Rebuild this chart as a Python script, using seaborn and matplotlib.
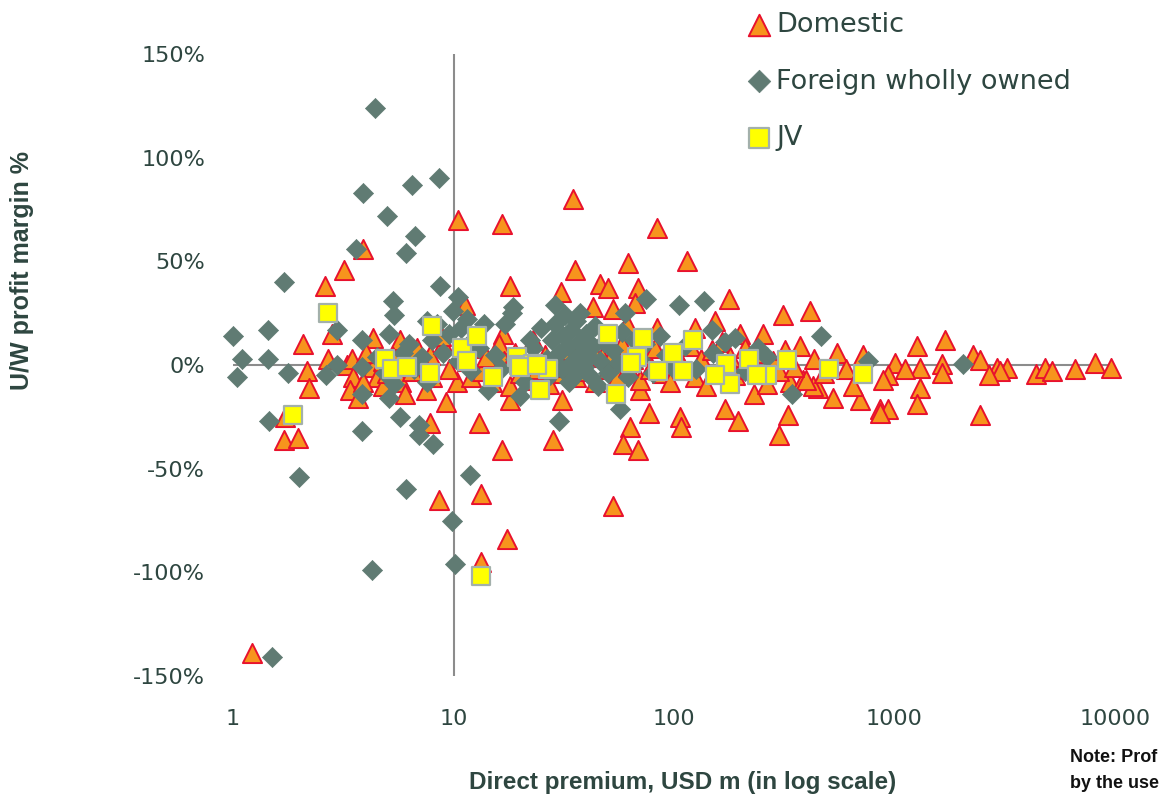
import matplotlib

matplotlib.use("Agg")
import matplotlib.pyplot as plt
import numpy as np
import pandas as pd
import seaborn as sns
from matplotlib.ticker import FixedLocator, FuncFormatter

# Direct premium (USD m) and U/W profit margin (%) per insurer
domestic_premium = [
    10.5, 3.9, 3.2, 2.6, 11.3, 2.07, 2.16, 2.2, 2.7, 2.8, 1.7, 1.97, 1.72, 3.3, 3.45,
    3.5, 3.4, 3.7, 4.3, 4.3, 4.5, 5.7, 5.8, 7.8, 7.8, 8.6, 10.4, 13.0, 1.22, 13.3,
    17.5, 13.3, 16.6, 16.6, 34.9, 83.9, 35.5, 61.6, 114, 18, 46, 50, 68.7, 30.7, 43,
    52.7, 66.5, 61, 84, 16.8, 124, 28.2, 31, 70, 77, 63, 58.7, 69, 106, 108,
    52.8, 18, 31.4, 177, 312, 414, 253, 1260, 1000, 546, 720, 372, 1300, 1300, 1260,
    860, 930, 700, 527, 450, 330, 300, 195, 170, 335, 385, 230, 200, 153, 425,
    1690, 2270, 2450, 2930, 3230, 3000, 2670, 2450, 4400, 4800, 5200, 6600, 8150, 9600, 1650,
    1640, 1120, 930, 890, 860, 395,
    6.5, 7.2, 8.0, 9.0, 9.5, 6.8, 5.3, 4.8, 6.0, 7.5, 9.2, 8.8, 3.9, 4.0, 4.8, 5.0,
    11.5, 12, 12.5, 13.5, 14, 15, 16, 17, 18, 19, 20, 21, 22, 23, 24,
    26, 27, 29, 32, 34, 36, 38, 40, 42, 44, 47, 50, 53, 56, 58,
    62, 65, 70, 74, 78, 82, 88, 92, 96, 102, 110, 118, 125, 132, 140,
    148, 158, 165, 180, 190, 210, 220, 240, 265, 280, 300, 320, 350, 430, 480,
    600, 650,
]
domestic_margin = [
    70, 56, 46, 38, 29, 10, -3, -11, 3, 15, -36, -35, -25, 0, 3,
    -6, -12, -16, 13, -1, -6, 12, -8, -28, 5, -65, -8, -28, -139, -62,
    -84, -95, -41, 68, 80, 66, 46, 49, 50, 38, 39, 37, 37, 35, 28,
    27, 30, 20, 18, 15, 18, -36, -17, -12, -23, -30, -38, -41, -25, -30,
    -68, -17, -4, 32, 24, 26, 15, 9, 1, 6, 5, 9, -1.5, -11, -19,
    -21, -21, -17, -16, -11, -24, -34, -27, -21, -8, -7, -14, 15, 21, -10,
    12, 5, 2.5, -1.5, -1.5, -3, -5, -24, -4.5, -1.5, -3, -2, 1, -1.5, 0.5,
    -4, -2, -5, -7, -23, -7,
    -3, 2, -6, 10, -2, 8, 4, -10, -14, -12, -18, 14, -8, 6, 2, -4,
    2, -6, 8, -3, 4, -8, 10, 2, -10, 6, -4, 1, -7, 12, -2,
    5, -9, 3, -1, 7, -6, 2, -3, 9, -8, 4, -2, 6, -5, 10,
    -1, 3, -7, 5, -2, 8, -4, 2, -8, 6, -1, 9, -6, 3, -10,
    7, -3, 11, 4, -5, 8, -2, 6, -9, 2, -3, 7, -1, 3, -4,
    -2, -10,
]

foreign_premium = [
    4.4, 3.9, 6.5, 8.6, 5.0, 6.7, 6.1, 3.6, 1.7, 8.7, 10.5, 5.3, 5.4,
    1.0, 1.44, 1.1, 1.44, 1.04, 1.78, 1.45, 3.85, 2.0, 6.1, 2.96, 2.64, 2.96, 3.85, 3.85,
    3.85, 5.1, 5.1, 5.7, 7.0, 7.0, 8.1, 11.9, 9.9, 7.6, 6.3, 5.4, 7.6,
    9.85, 4.27, 10.2, 1.5,
    18.6, 18.4, 17.1, 75, 105, 28.9, 59.8, 22.2, 37.5,
    30, 56.9, 45, 20, 14.3,
    137, 464, 189, 149, 263, 760, 342, 2040,
    10.8, 11.5, 12.2, 11, 13, 12, 10.5, 9.5, 9, 8.4, 8, 7.2, 6.6, 5.9, 4.9, 4.5,
    13.8, 15.5, 16.5, 19, 21, 23, 25, 26.5, 27.5, 28, 29, 30, 31, 31.5, 32,
    33, 33.5, 34, 35, 36, 36.5, 37, 38, 39, 40, 41, 42, 43, 44, 46,
    48, 50, 53, 56, 58, 62, 66, 70, 74, 80, 86, 92, 98, 112, 126,
    150, 170, 210, 240,
]
foreign_margin = [
    124, 83, 87, 90, 72, 62, 54, 56, 40, 38, 33, 31, 24,
    14, 17, 3, 3, -6, -4, -27, -32, -54, -60, 17, -5, 0, 12, -1,
    -14, 15, -16, -25, -29, -34, -38, -53, 26, 21, 10, -9, -8,
    -75, -99, -96, -141,
    28, 25, 20, 32, 29, 29, 25, 12, 25,
    -27, -21, -10, -15, -12,
    31, 14, 13, 17, 4, 2, -14, 0.5,
    18, 22, 12, 6, 8, -3, 2, 15, 6, 20, 12, 4, -2, 6, -4, 4,
    20, 5, -2, 3, -8, 8, 18, 3, -5, 12, 20, 6, -2, 14, 24,
    9, -8, 17, 2, 21, -4, 11, 6, -1, 15, 4, -6, 9, 19, 2,
    11, -4, 7, 1, 16, -6, 12, 3, 10, -4, 14, 5, -1, 9, -2,
    6, 11, -3, 8,
]

jv_premium = [
    2.7, 8.0, 4.9, 5.25, 6.15, 7.8, 1.87, 10.9, 11.5, 12.8, 13.3,
    50, 72, 122, 19.4, 26.8, 19.8, 67.8, 99, 110, 84.8, 15.1, 22.9,
    54.5, 24.7, 20, 24, 64,
    172, 180, 218, 263, 237, 325, 505, 718, 153,
]
jv_margin = [
    25, 19, 3, -2, -1, -4, -24, 8, 2, 14, -102,
    15, 13, 12, 4, -2, 0, 4, 6, -3, -3, -6, 0.5,
    -14, -12, -1, 0, 1,
    0.5, -9, 3, -5, -5, 2.5, -2, -4.5, -5,
]

groups = ["Domestic", "Foreign wholly owned", "JV"]
x_ticks = [1, 10, 100, 1000, 10000]
y_ticks = [-150, -100, -50, 0, 50, 100, 150]

df = pd.concat(
    [
        pd.DataFrame({"premium": domestic_premium, "margin": domestic_margin, "group": groups[0]}),
        pd.DataFrame({"premium": foreign_premium, "margin": foreign_margin, "group": groups[1]}),
        pd.DataFrame({"premium": jv_premium, "margin": jv_margin, "group": groups[2]}),
    ],
    ignore_index=True,
)

styles = {
    "Domestic": dict(marker="^", s=190, color="#F7941D", edgecolor="#E8112D", linewidth=1.4),
    "Foreign wholly owned": dict(marker="D", s=105, color="#607B73", edgecolor="#607B73", linewidth=0.5),
    "JV": dict(marker="s", s=165, color="#FFFF00", edgecolor="#A3B0AB", linewidth=1.6),
}

TEXT = "#2E4640"
AXIS = "#8C8C8C"

sns.set_theme(style="white")
plt.rcParams["font.family"] = ["DejaVu Sans"]

fig = plt.figure(figsize=(11.61, 7.98), dpi=100, facecolor="white")
ax = fig.add_axes([233 / 1161, 1 - 676 / 798, (1115 - 233) / 1161, (676 - 54) / 798])

for g in groups:
    sub = df[df["group"] == g]
    sns.scatterplot(data=sub, x="premium", y="margin", ax=ax, label=g, clip_on=False, **styles[g])

if ax.get_legend() is not None:
    ax.get_legend().remove()

ax.set_xscale("log")
ax.set_xlim(1, 10000)
ax.set_ylim(-150, 150)
ax.axhline(0, color=AXIS, lw=1.5, zorder=0)
ax.axvline(10, color=AXIS, lw=1.5, zorder=0)
for sp in ax.spines.values():
    sp.set_visible(False)

ax.xaxis.set_major_locator(FixedLocator(x_ticks))
ax.xaxis.set_minor_locator(FixedLocator([]))
ax.xaxis.set_major_formatter(FuncFormatter(lambda v, p: f"{v:.0f}"))
ax.yaxis.set_major_locator(FixedLocator(y_ticks))
ax.yaxis.set_major_formatter(FuncFormatter(lambda v, p: f"{v:.0f}%"))
ax.tick_params(axis="both", length=0, labelsize=16, labelcolor=TEXT)
ax.tick_params(axis="x", pad=24)
ax.tick_params(axis="y", pad=20)
ax.set_xlabel("")
ax.set_ylabel("")
ax.grid(False)

fig.text(22 / 1161, 1 - 270 / 798, "U/W profit margin %", rotation=90, ha="center", va="center",
         fontsize=18, fontweight="bold", color=TEXT, family=["Liberation Sans"])
fig.text(683 / 1161, 1 - 782 / 798, "Direct premium, USD m (in log scale)", ha="center", va="center",
         fontsize=17.5, fontweight="bold", color=TEXT, family=["Liberation Sans"])
fig.text(1070 / 1161, 1 - 757 / 798, "Note: Prof", ha="left", va="center",
         fontsize=13, fontweight="bold", color="#111111", family=["Liberation Sans"])
fig.text(1070 / 1161, 1 - 784 / 798, "by the use", ha="left", va="center",
         fontsize=13, fontweight="bold", color="#111111", family=["Liberation Sans"])

handles, labels = ax.get_legend_handles_labels()
fig.legend(handles, labels, loc="upper left", bbox_to_anchor=(745 / 1161, 1 - 12 / 798),
           frameon=False, fontsize=19.5, labelcolor=TEXT, borderpad=0, handletextpad=0.15,
           handlelength=1.0, labelspacing=1.13, borderaxespad=0, markerscale=1.12)

fig.savefig("out.png", dpi=100)
plt.close(fig)
